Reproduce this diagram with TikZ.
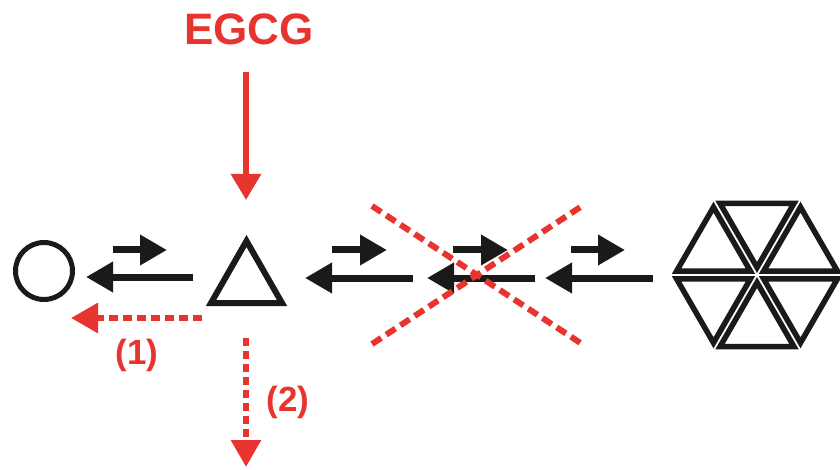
\documentclass[tikz,border=0pt]{standalone}
\usepackage{fontspec}
\setmainfont{Liberation Sans}
\usetikzlibrary{arrows.meta,calc}
\definecolor{egred}{RGB}{232,52,46}
\definecolor{ink}{RGB}{26,26,26}
\tikzset{
  blk/.style={draw=ink,line width=7pt,-{Triangle[length=27pt,width=29pt]},fill=none},
  redsolid/.style={draw=egred,line width=6pt,-{Triangle[length=26pt,width=29pt]}},
  reddash/.style={draw=egred,line width=6pt,dash pattern=on 9pt off 5pt,-{Triangle[length=27pt,width=29pt]}},
  crossline/.style={draw=egred,line width=6pt,dash pattern=on 11pt off 6pt},
  shapeline/.style={draw=ink,line width=5.5pt,line join=miter},
  lab/.style={text=egred,font=\bfseries,inner sep=0pt}
}
\begin{document}
\begin{tikzpicture}[x=1pt,y=-1pt]
\useasboundingbox[fill=white] (0,0) rectangle (840,470);
\clip (0,0) rectangle (840,470);
% species
\node[circle,draw=ink,line width=5pt,minimum size=57pt,inner sep=0pt] (c) at (44,271) {};
\coordinate (t1) at (211,303);
\coordinate (t2) at (282,303);
\coordinate (t3) at (246.5,241);
\draw[shapeline,line width=6pt] (t1) -- (t2) -- (t3) -- cycle;
\coordinate (hc) at (757,275);
\foreach \a in {0,60,...,300}{
  \draw[shapeline] ($(hc)+(\a+30:50.23)+(\a+210:42.69)$) -- ($(hc)+(\a+30:50.23)+(\a-30:42.69)$) -- ($(hc)+(\a+30:50.23)+(\a+90:42.69)$) -- cycle;
}
% equilibrium arrows
\coordinate (u1s) at (113,250); \coordinate (u1e) at (167,250);
\coordinate (l1s) at (193,277); \coordinate (l1e) at (86,277);
\coordinate (u2s) at (332,250); \coordinate (u2e) at (387,250);
\coordinate (l2s) at (413,278); \coordinate (l2e) at (305,278);
\coordinate (u3s) at (453,250); \coordinate (u3e) at (508,250);
\coordinate (l3s) at (535,278); \coordinate (l3e) at (427,278);
\coordinate (u4s) at (571,250); \coordinate (u4e) at (625,250);
\coordinate (l4s) at (653,278); \coordinate (l4e) at (545,278);
\foreach \s/\e in {u1s/u1e,l1s/l1e,u2s/u2e,l2s/l2e,u3s/u3e,l3s/l3e,u4s/u4e,l4s/l4e}
  \draw[blk] (\s) -- (\e);
% cross
\coordinate (x1) at (372,206); \coordinate (x2) at (582,344);
\coordinate (x3) at (372,344); \coordinate (x4) at (582,206);
\draw[crossline] (x1) -- (x2);
\draw[crossline] (x3) -- (x4);
% EGCG
\node[lab,font=\bfseries\fontsize{44}{44}\selectfont] (egcg) at (249,29) {EGCG};
\coordinate (e1) at (246,72); \coordinate (e2) at (246,200);
\draw[redsolid] (e1) -- (e2);
% pathways
\coordinate (p1s) at (202,318); \coordinate (p1e) at (71,318);
\draw[reddash] (p1s) -- (p1e);
\node[lab,font=\bfseries\fontsize{35}{35}\selectfont] (n1) at (137,355) {(1)};
\coordinate (p2s) at (246,338); \coordinate (p2e) at (246,467);
\draw[reddash,dash pattern=on 8pt off 5pt] (p2s) -- (p2e);
\node[lab,font=\bfseries\fontsize{35}{35}\selectfont] (n2) at (288,402) {(2)};
\end{tikzpicture}
\end{document}
